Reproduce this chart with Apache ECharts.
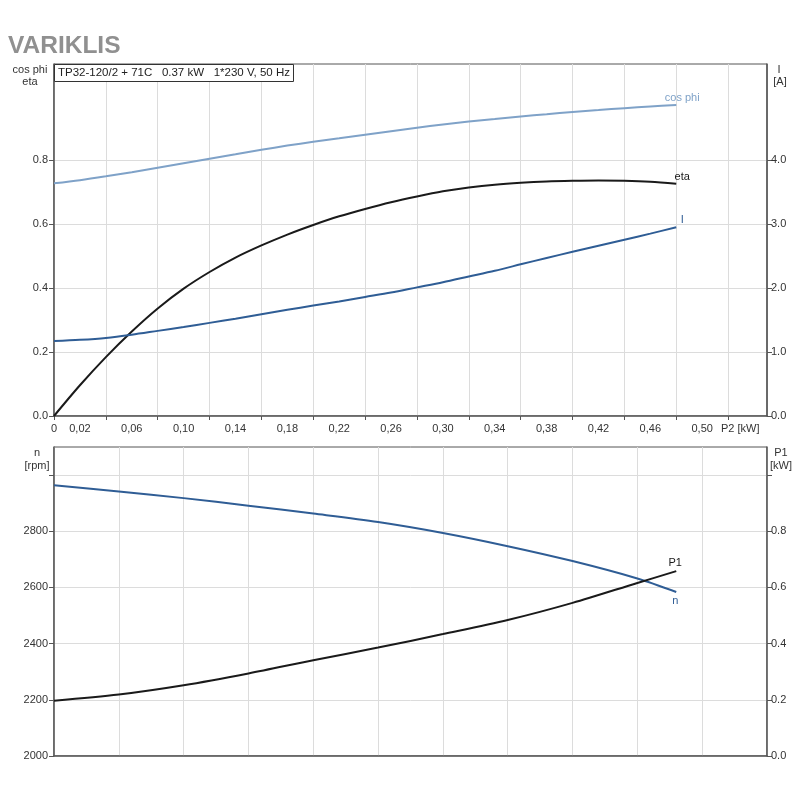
<!DOCTYPE html>
<html>
<head>
<meta charset="utf-8">
<script src="https://cdn.jsdelivr.net/npm/echarts@6/dist/echarts.min.js"></script>
<style>
html,body{margin:0;padding:0;background:#fff;}
#chart{width:800px;height:800px;}
</style>
</head>
<body>
<div id="chart"></div>
<script>
// ---- data ----
var p2Top = [0, 0.02, 0.04, 0.06, 0.08, 0.10, 0.12, 0.14, 0.16, 0.18, 0.20, 0.22, 0.24, 0.26, 0.28, 0.30, 0.32, 0.34, 0.36, 0.38, 0.40, 0.42, 0.44, 0.46, 0.48];
var cosPhi = [0.727, 0.737, 0.749, 0.762, 0.776, 0.790, 0.804, 0.818, 0.832, 0.845, 0.857, 0.868, 0.879, 0.890, 0.901, 0.911, 0.920, 0.928, 0.936, 0.943, 0.950, 0.956, 0.962, 0.967, 0.972];
var eta = [0, 0.096, 0.184, 0.264, 0.336, 0.398, 0.450, 0.495, 0.533, 0.567, 0.597, 0.624, 0.647, 0.668, 0.686, 0.702, 0.714, 0.723, 0.729, 0.733, 0.735, 0.736, 0.735, 0.732, 0.726];
var current = [1.17, 1.19, 1.22, 1.27, 1.33, 1.39, 1.455, 1.52, 1.59, 1.66, 1.725, 1.79, 1.86, 1.93, 2.01, 2.09, 2.18, 2.27, 2.37, 2.47, 2.565, 2.66, 2.755, 2.85, 2.95];

var p2Bottom = [0, 0.05, 0.10, 0.15, 0.20, 0.25, 0.30, 0.35, 0.40, 0.45, 0.48];
var speed = [2964, 2942, 2918, 2891, 2863, 2833, 2794, 2747, 2694, 2632, 2584];
var p1 = [0.197, 0.219, 0.252, 0.294, 0.341, 0.386, 0.434, 0.484, 0.545, 0.616, 0.658];

var xLabelValues = [0, 0.02, 0.06, 0.10, 0.14, 0.18, 0.22, 0.26, 0.30, 0.34, 0.38, 0.42, 0.46, 0.50];
var xTickValues = [0, 0.04, 0.08, 0.12, 0.16, 0.20, 0.24, 0.28, 0.32, 0.36, 0.40, 0.44, 0.48, 0.52];
var cosEtaLabels = [0, 0.2, 0.4, 0.6, 0.8];
var currentLabels = [0, 1, 2, 3, 4];
var speedLabels = [2000, 2200, 2400, 2600, 2800];
var speedTicks = [2000, 2200, 2400, 2600, 2800, 3000];
var p1Labels = [0, 0.2, 0.4, 0.6, 0.8];
var p1Ticks = [0, 0.2, 0.4, 0.6, 0.8, 1.0];

var titleText = 'TP32-120/2 + 71C   0.37 kW   1*230 V, 50 Hz';

function pairs(xs, ys) { return xs.map(function (x, i) { return [x, ys[i]]; }); }

var FONT = 'Arial, "Liberation Sans", sans-serif';
var TXT = '#333';
var AX = '#555';
var GRID = '#dcdcdc';
var LIGHT = '#7fa2c8';
var BLUE = '#2f5d95';
var BLACK = '#1a1a1a';

var chart = echarts.init(document.getElementById('chart'), null, {renderer: 'canvas'});

var axisLabelStyle = {color: TXT, fontSize: 11, fontFamily: FONT};

function endLbl(color, offset) {
  return {show: true, formatter: '{a}', color: color, fontSize: 11, fontFamily: FONT,
    align: 'center', verticalAlign: 'middle', distance: 0, offset: offset};
}

var option = {
  animation: false,
  backgroundColor: '#fff',
  textStyle: {fontFamily: FONT},
  title: {
    text: titleText,
    left: 54, top: 64,
    padding: [3, 4, 3, 4],
    borderColor: '#333', borderWidth: 1,
    backgroundColor: '#fff',
    textStyle: {fontSize: 11.5, fontWeight: 'normal', color: '#222', fontFamily: FONT}
  },
  grid: [
    {left: 54, right: 33, top: 64, height: 352, show: true, borderColor: AX, borderWidth: 1, backgroundColor: 'transparent'},
    {left: 54, right: 33, top: 447, height: 309, show: true, borderColor: AX, borderWidth: 1, backgroundColor: 'transparent'}
  ],
  xAxis: [
    {
      gridIndex: 0, type: 'value', min: 0, max: 0.55, interval: 0.02,
      name: 'P2 [kW]', nameLocation: 'end', nameGap: -46,
      nameTextStyle: {color: TXT, fontSize: 11, fontFamily: FONT, align: 'left', verticalAlign: 'top', padding: [7, 0, 0, 0]},
      axisLine: {show: true, onZero: false, lineStyle: {color: AX, width: 1.5}},
      axisTick: {show: true, length: 4, customValues: xTickValues, lineStyle: {color: AX}},
      axisLabel: Object.assign({margin: 7, customValues: xLabelValues,
        formatter: function (v) { return v === 0 ? '0' : v.toFixed(2).replace('.', ','); }}, axisLabelStyle),
      splitLine: {show: true, lineStyle: {color: GRID, width: 1}}
    },
    {
      gridIndex: 1, type: 'value', min: 0, max: 0.55, interval: 0.05,
      axisLine: {show: true, onZero: false, lineStyle: {color: AX, width: 1.5}},
      axisTick: {show: false},
      axisLabel: {show: false},
      splitLine: {show: true, lineStyle: {color: GRID, width: 1}}
    }
  ],
  yAxis: [
    {
      gridIndex: 0, type: 'value', min: 0, max: 1.1, interval: 0.1, position: 'left',
      axisLine: {show: true, onZero: false, lineStyle: {color: AX, width: 1.5}},
      axisTick: {show: true, length: 5, customValues: cosEtaLabels, lineStyle: {color: AX}},
      axisLabel: Object.assign({margin: 6, customValues: cosEtaLabels,
        formatter: function (v) { return v.toFixed(1); }}, axisLabelStyle),
      splitLine: {show: true, lineStyle: {color: GRID, width: 1}}
    },
    {
      gridIndex: 0, type: 'value', min: 0, max: 5.5, interval: 0.5, position: 'right',
      axisLine: {show: true, onZero: false, lineStyle: {color: AX, width: 1.5}},
      axisTick: {show: true, length: 5, customValues: currentLabels, lineStyle: {color: AX}},
      axisLabel: Object.assign({margin: 4, customValues: currentLabels,
        formatter: function (v) { return v.toFixed(1); }}, axisLabelStyle),
      splitLine: {show: false}
    },
    {
      gridIndex: 1, type: 'value', min: 2000, max: 3100, interval: 100, position: 'left',
      axisLine: {show: true, onZero: false, lineStyle: {color: AX, width: 1.5}},
      axisTick: {show: true, length: 5, customValues: speedTicks, lineStyle: {color: AX}},
      axisLabel: Object.assign({margin: 6, customValues: speedLabels,
        formatter: function (v) { return String(v); }}, axisLabelStyle),
      splitLine: {show: true, lineStyle: {color: GRID, width: 1}}
    },
    {
      gridIndex: 1, type: 'value', min: 0, max: 1.1, interval: 0.1, position: 'right',
      axisLine: {show: true, onZero: false, lineStyle: {color: AX, width: 1.5}},
      axisTick: {show: true, length: 5, customValues: p1Ticks, lineStyle: {color: AX}},
      axisLabel: Object.assign({margin: 4, customValues: p1Labels,
        formatter: function (v) { return v.toFixed(1); }}, axisLabelStyle),
      splitLine: {show: false}
    }
  ],
  graphic: [
    {type: 'text', left: 8, top: 34, style: {text: 'VARIKLIS', fill: '#909090', font: 'bold 24.5px ' + FONT}},
    {type: 'text', x: 30, y: 70, style: {text: 'cos phi', fill: TXT, font: '11px ' + FONT, align: 'center', verticalAlign: 'middle'}},
    {type: 'text', x: 30, y: 82, style: {text: 'eta', fill: TXT, font: '11px ' + FONT, align: 'center', verticalAlign: 'middle'}},
    {type: 'text', x: 779, y: 70, style: {text: 'I', fill: TXT, font: '11px ' + FONT, align: 'center', verticalAlign: 'middle'}},
    {type: 'text', x: 780, y: 82, style: {text: '[A]', fill: TXT, font: '11px ' + FONT, align: 'center', verticalAlign: 'middle'}},
    {type: 'text', x: 37, y: 453, style: {text: 'n', fill: TXT, font: '11px ' + FONT, align: 'center', verticalAlign: 'middle'}},
    {type: 'text', x: 37, y: 466, style: {text: '[rpm]', fill: TXT, font: '11px ' + FONT, align: 'center', verticalAlign: 'middle'}},
    {type: 'text', x: 781, y: 453, style: {text: 'P1', fill: TXT, font: '11px ' + FONT, align: 'center', verticalAlign: 'middle'}},
    {type: 'text', x: 781, y: 466, style: {text: '[kW]', fill: TXT, font: '11px ' + FONT, align: 'center', verticalAlign: 'middle'}}
  ],
  series: [
    {
      name: 'cos phi', type: 'line', xAxisIndex: 0, yAxisIndex: 0, smooth: 0.3, symbol: 'none',
      data: pairs(p2Top, cosPhi), lineStyle: {color: LIGHT, width: 2}, itemStyle: {color: LIGHT},
      endLabel: endLbl(LIGHT, [6, -7])
    },
    {
      name: 'eta', type: 'line', xAxisIndex: 0, yAxisIndex: 0, smooth: 0.3, symbol: 'none',
      data: pairs(p2Top, eta), lineStyle: {color: BLACK, width: 2}, itemStyle: {color: BLACK},
      endLabel: endLbl(BLACK, [6, -7])
    },
    {
      name: 'I', type: 'line', xAxisIndex: 0, yAxisIndex: 1, smooth: 0.3, symbol: 'none',
      data: pairs(p2Top, current), lineStyle: {color: BLUE, width: 2}, itemStyle: {color: BLUE},
      endLabel: endLbl(BLUE, [6, -7])
    },
    {
      name: 'n', type: 'line', xAxisIndex: 1, yAxisIndex: 2, smooth: 0.3, symbol: 'none',
      data: pairs(p2Bottom, speed), lineStyle: {color: BLUE, width: 2}, itemStyle: {color: BLUE},
      endLabel: endLbl(BLUE, [-1, 9])
    },
    {
      name: 'P1', type: 'line', xAxisIndex: 1, yAxisIndex: 3, smooth: 0.3, symbol: 'none',
      data: pairs(p2Bottom, p1), lineStyle: {color: BLACK, width: 2}, itemStyle: {color: BLACK},
      endLabel: endLbl(BLACK, [-1, -8])
    }
  ]
};
chart.setOption(option);
</script>
</body>
</html>
